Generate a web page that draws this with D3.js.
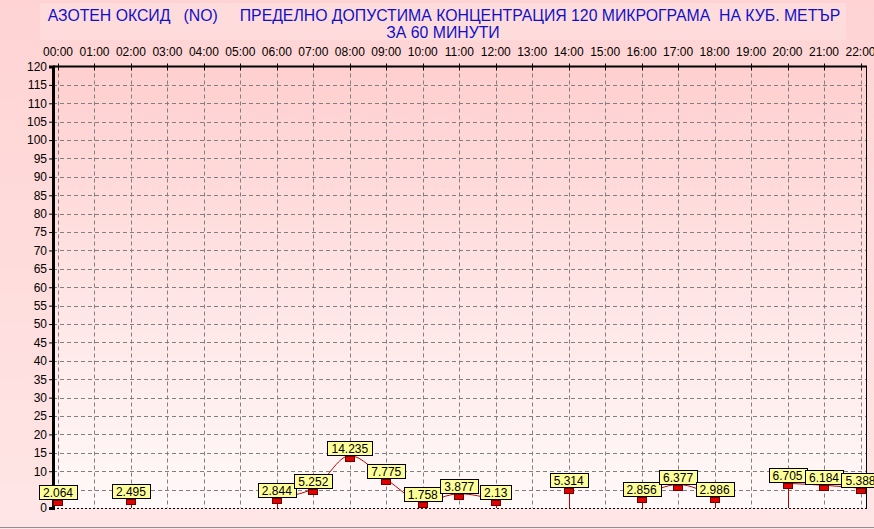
<!DOCTYPE html>
<html><head><meta charset="utf-8">
<script src="https://cdn.jsdelivr.net/npm/d3@7"></script>
<style>html,body{margin:0;padding:0;background:#fff;}svg{display:block;}</style>
</head><body>
<script>
const titleLine1 = "АЗОТЕН ОКСИД   (NO)     ПРЕДЕЛНО ДОПУСТИМА КОНЦЕНТРАЦИЯ 120 МИКРОГРАМА  НА КУБ. МЕТЪР";
const titleLine2 = "ЗА 60 МИНУТИ";
const hourLabels = ["00:00","01:00","02:00","03:00","04:00","05:00","06:00","07:00","08:00","09:00","10:00","11:00","12:00","13:00","14:00","15:00","16:00","17:00","18:00","19:00","20:00","21:00","22:00"];
const yTicks = [0,5,10,15,20,25,30,35,40,45,50,55,60,65,70,75,80,85,90,95,100,105,110,115,120];
const hours  = [0, 2, 6, 7, 8, 9, 10, 11, 12, 14, 16, 17, 18, 20, 21, 22];
const values = [2.064, 2.495, 2.844, 5.252, 14.235, 7.775, 1.758, 3.877, 2.13, 5.314, 2.856, 6.377, 2.986, 6.705, 6.184, 5.388];
const labels = ["2.064","2.495","2.844","5.252","14.235","7.775","1.758","3.877","2.13","5.314","2.856","6.377","2.986","6.705","6.184","5.388"];

const W = 874, H = 529;
const L = 53, R = 866, T = 66.5, B = 508;
const svg = d3.select("body").append("svg").attr("width", W).attr("height", H);
const defs = svg.append("defs");
const g1 = defs.append("linearGradient").attr("id","plotbg").attr("x1",0).attr("y1",0).attr("x2",0).attr("y2",1);
g1.append("stop").attr("offset","0%").attr("stop-color","#ffcfcf");
g1.append("stop").attr("offset","100%").attr("stop-color","#fff9f9");
const g0 = defs.append("linearGradient").attr("id","outerbg").attr("x1",0).attr("y1",0).attr("x2",0).attr("y2",1);
g0.append("stop").attr("offset","0%").attr("stop-color","#ffd3d3");
g0.append("stop").attr("offset","100%").attr("stop-color","#ffe6e6");

svg.append("rect").attr("width", W).attr("height", H).attr("fill","url(#outerbg)");
svg.append("rect").attr("x",40).attr("y",3).attr("width",806).attr("height",37).attr("fill","#ffdcdc");

const font = "'Liberation Sans', Arial, sans-serif";
svg.append("text").attr("x",444).attr("y",21).attr("text-anchor","middle")
  .style("white-space","pre").attr("font-family",font).attr("font-size",15.8).attr("fill","#1010c8").text(titleLine1);
svg.append("text").attr("x",443).attr("y",38).attr("text-anchor","middle")
  .style("white-space","pre").attr("font-family",font).attr("font-size",15.8).attr("fill","#1010c8").text(titleLine2);

const x = d3.scaleLinear().domain([0,22]).range([58, 860.5]);
const y = d3.scaleLinear().domain([0,120]).range([B, T]);

svg.append("rect").attr("x",L).attr("y",T).attr("width",R-L).attr("height",B-T).attr("fill","url(#plotbg)");

// grid
const grid = svg.append("g").attr("stroke","#808080").attr("stroke-width",1).attr("stroke-dasharray","4,3").attr("fill","none");
yTicks.filter(v => v > 0 && v < 120).forEach(v => {
  grid.append("line").attr("x1",L).attr("x2",R).attr("y1",Math.round(y(v))+0.5).attr("y2",Math.round(y(v))+0.5);
});
hourLabels.forEach((h,i) => {
  grid.append("line").attr("x1",Math.round(x(i))+0.5).attr("x2",Math.round(x(i))+0.5).attr("y1",T).attr("y2",B);
});

// borders
svg.append("line").attr("x1",L).attr("x2",R).attr("y1",B+0.5).attr("y2",B+0.5).attr("stroke","#000").attr("stroke-dasharray","2,2");
svg.append("line").attr("x1",R+0.5).attr("x2",R+0.5).attr("y1",T).attr("y2",B+1).attr("stroke","#000");
svg.append("line").attr("x1",L).attr("x2",R+1).attr("y1",T).attr("y2",T).attr("stroke","#000").attr("stroke-width",2);
const topTicks = svg.append("g").attr("stroke","#000");
hourLabels.forEach((h,i) => {
  topTicks.append("line").attr("x1",Math.round(x(i))+0.5).attr("x2",Math.round(x(i))+0.5).attr("y1",T-3).attr("y2",T+4);
});

// y axis
const yAxis = d3.axisLeft(y).tickValues(yTicks).tickSize(4).tickPadding(2).tickFormat(d3.format("d"));
const ya = svg.append("g").attr("transform",`translate(${L},0)`).call(yAxis);
ya.select(".domain").attr("stroke","#000").attr("stroke-width",3);
ya.selectAll(".tick line").attr("stroke","#000");
ya.selectAll(".tick text").attr("font-family",font).attr("font-size",12).attr("fill","#000");

// x labels on top
svg.append("g").selectAll("text").data(hourLabels).join("text")
  .attr("x",(d,i)=>x(i)).attr("y",56).attr("text-anchor","middle")
  .attr("font-family",font).attr("font-size",12).attr("fill","#000").text(d=>d);

// data
const pts = hours.map((h,i)=>({h, v: values[i], l: labels[i]}));
const segs = [];
pts.forEach((p,i)=>{
  if (i>0 && p.h === pts[i-1].h + 1) segs[segs.length-1].push(p); else segs.push([p]);
});
const line = d3.line().x(d=>x(d.h)).y(d=>y(d.v)).curve(d3.curveMonotoneX);
const lineColor = "#c00000";
segs.filter(s=>s.length>1).forEach(s=>{
  svg.append("path").attr("d",line(s)).attr("fill","none").attr("stroke",lineColor).attr("stroke-width",1);
});
pts.forEach((p,i)=>{
  if (i===0 || i===pts.length-1) return;
  const prevGap = pts[i-1].h !== p.h-1;
  const nextGap = pts[i+1].h !== p.h+1;
  if (prevGap || nextGap) {
    svg.append("line").attr("x1",Math.round(x(p.h))+0.5).attr("x2",Math.round(x(p.h))+0.5)
      .attr("y1",y(p.v)).attr("y2",B).attr("stroke",lineColor).attr("stroke-width",1);
  }
});
svg.append("g").selectAll("rect").data(pts).join("rect")
  .attr("x",d=>Math.round(x(d.h))-4.5).attr("y",d=>Math.round(y(d.v))+0.5).attr("width",9).attr("height",5)
  .attr("fill","#e00000").attr("stroke","#700000").attr("stroke-width",1);
const lg = svg.append("g");
pts.forEach(p=>{
  const t = lg.append("text").attr("font-family",font).attr("font-size",12).attr("text-anchor","middle")
    .attr("x",x(p.h)).attr("y",Math.round(y(p.v))-3).attr("fill","#000").text(p.l);
  const w = t.node().getComputedTextLength() + 8;
  lg.insert("rect","text").attr("x",Math.round(x(p.h)-w/2)+0.5).attr("y",Math.round(y(p.v))-14.5)
    .attr("width",Math.round(w)).attr("height",14).attr("fill","#ffff99").attr("stroke","#000");
});
svg.append("line").attr("x1",0).attr("x2",W).attr("y1",527.5).attr("y2",527.5).attr("stroke","#909090");
</script>
</body></html>
